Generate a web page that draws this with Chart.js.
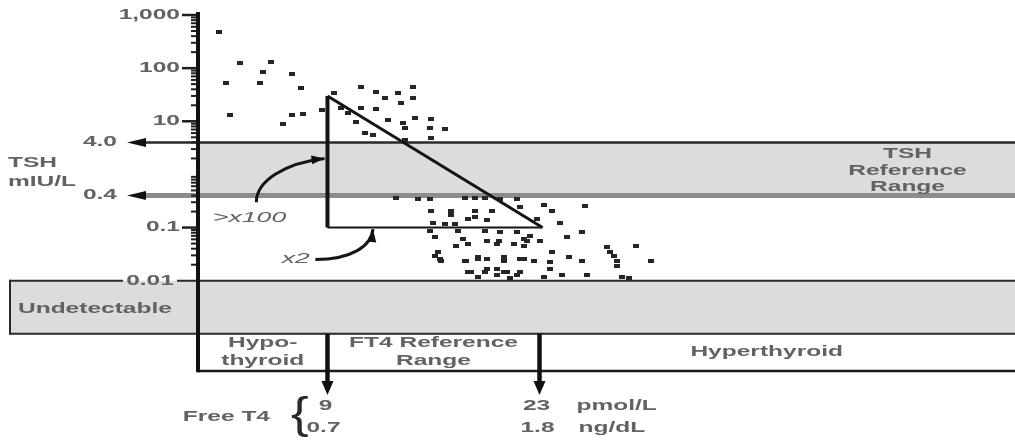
<!DOCTYPE html>
<html><head><meta charset="utf-8">
<script src="https://cdn.jsdelivr.net/npm/chart.js@4.4.1/dist/chart.umd.min.js"></script>
<style>html,body{margin:0;padding:0;background:#fff;overflow:hidden}canvas{display:block}</style>
</head><body>
<canvas id="c" width="1015" height="443"></canvas>
<script>
// ---- data (FT4 in pmol/L, TSH in mIU/L) ----
const hypoFT4 = [1.85, 3.23, 5.26, 4.74, 6.64, 2.31, 4.54, 7.23, 2.57, 6.64, 7.36, 6.05, 8.61];
const hypoTSH = [480, 125, 130, 85, 78, 53, 53, 42, 13.2, 13.2, 13.8, 8.9, 16.4];

const highFT4 = [9.40, 11.23, 12.22, 12.81, 13.66, 14.64, 14.64, 13.86, 11.23, 12.22, 13.0, 13.99,
  14.78, 15.82, 14.12, 15.76, 16.74, 11.50, 15.82, 14.12, 10.38, 9.86, 10.9, 12.0];
const highTSH = [34, 44, 36, 27.5, 34, 44, 27.5, 22, 18, 17, 10.6, 9.3,
  11.6, 11.1, 7.5, 7.5, 7.2, 6.0, 4.9, 4.5, 14.4, 17.9, 9.7, 5.5];

const lowFT4 = [13.53,14.97,15.76,18.05,18.71,19.37,20.42,21.53,
  15.82,17.14,18.71,19.89,21.73,23.30,23.83,25.99,
  15.96,16.74,17.40,18.25,19.56,22.84,24.35,
  15.76,17.60,19.43,20.42,21.53,24.81,25.80,
  17.92,19.56,20.35,21.99,23.04,22.38,
  16.28,16.41,18.12,18.91,19.56,20.68,21.99,22.65,
  23.83,24.94,25.80,27.43,27.63,28.09,29.40,30.39,
  18.45,19.37,20.22,20.88,21.73,23.30,23.70,24.48,
  26.12,28.42,28.94,18.91,21.07,28.09,
  17.46,18.25,21.34,16.09,20.22,27.9,23.7,22.0,
  17.14,18.71,22.2,16.09,16.48,18.05,18.91,20.68,
  21.73,18.25,20.22,20.68,21.53,19.56];
const lowTSH = [0.36,0.34,0.34,0.36,0.36,0.36,0.34,0.34,
  0.205,0.205,0.205,0.205,0.24,0.265,0.205,0.25,
  0.123,0.116,0.116,0.143,0.136,0.143,0.123,
  0.0875,0.0875,0.0875,0.084,0.084,0.067,0.084,
  0.061,0.056,0.056,0.061,0.056,0.070,
  0.0345,0.0253,0.0232,0.0253,0.0253,0.0232,0.0253,0.0232,
  0.0345,0.0277,0.0232,0.043,0.0345,0.0232,0.045,0.0232,
  0.0149,0.0143,0.0163,0.0149,0.0143,0.0119,0.0163,0.0130,
  0.0130,0.0119,0.0114,0.0119,0.0114,0.0186,
  0.045,0.049,0.049,0.067,0.049,0.029,0.0222,0.045,
  0.176,0.16,0.056,0.029,0.0232,0.0232,0.0277,0.0277,
  0.0253,0.0143,0.013,0.0143,0.013,0.0163];

const triangleFT4 = [9, 9, 23.2];
const triangleTSH = [30, 0.1, 0.1];

const yMajorTicks = [1000, 100, 10, 0.1];
const yMajorLabels = ['1,000', '100', '10', '0.1'];
const tshRange = [0.4, 4.0];
const tshRangeLabels = ['0.4', '4.0'];
const undetectable = [0.001, 0.01];
const undetectableLabel = '0.01';
const ft4Range = [9, 23];
const ft4Pmol = ['9', '23'];
const ft4Ngdl = ['0.7', '1.8'];

// ---- helpers ----
const FONT = '"Liberation Sans", Arial, sans-serif';
const TXT = '#626262';
function txt(ctx, s, x, y, align, o) {
  o = o || {};
  ctx.save();
  ctx.font = (o.italic ? 'italic ' : '') + (o.weight || 'bold') + ' ' + (o.size || 14) + 'px ' + FONT;
  ctx.fillStyle = o.color || TXT;
  ctx.textBaseline = o.baseline || 'middle';
  ctx.textAlign = 'left';
  const sx = o.sx || 1.75;
  const w = ctx.measureText(s).width * sx;
  const left = align === 'center' ? x - w / 2 : align === 'right' ? x - w : x;
  ctx.translate(left, y);
  ctx.scale(sx, 1);
  ctx.fillText(s, 0, 0);
  ctx.restore();
}
function line(ctx, x1, y1, x2, y2, c, w) {
  ctx.save(); ctx.strokeStyle = c; ctx.lineWidth = w; ctx.lineCap = 'butt';
  ctx.beginPath(); ctx.moveTo(x1, y1); ctx.lineTo(x2, y2); ctx.stroke(); ctx.restore();
}
function head(ctx, tx, ty, ang, len, hw, c) {
  ctx.save(); ctx.fillStyle = c || '#111';
  ctx.translate(tx, ty); ctx.rotate(ang);
  ctx.beginPath(); ctx.moveTo(0, 0); ctx.lineTo(-len, -hw); ctx.lineTo(-len, hw); ctx.closePath(); ctx.fill();
  ctx.restore();
}
function curveArrow(ctx, p0, p1, p2, p3) {
  ctx.save(); ctx.strokeStyle = '#151515'; ctx.lineWidth = 3;
  ctx.beginPath(); ctx.moveTo(p0[0], p0[1]);
  ctx.bezierCurveTo(p1[0], p1[1], p2[0], p2[1], p3[0], p3[1]); ctx.stroke();
  ctx.restore();
  head(ctx, p3[0], p3[1], Math.atan2(p3[1] - p2[1], p3[0] - p2[0]), 13, 4.5);
}

const dot = document.createElement('canvas');
dot.width = 6; dot.height = 4;
(function () { const d = dot.getContext('2d'); d.fillStyle = '#262626'; d.fillRect(0, 0, 6, 4); })();

const toXY = (xs, ys) => xs.map((v, i) => ({ x: v, y: ys[i] }));

const diagram = {
  id: 'diagram',
  beforeDatasetsDraw(chart) {
    const { ctx, chartArea: ca, scales: { x, y } } = chart;
    const W = chart.width;
    const yT = y.getPixelForValue(tshRange[1]), yB = y.getPixelForValue(tshRange[0]);
    const yU1 = y.getPixelForValue(undetectable[1]), yU0 = y.getPixelForValue(undetectable[0]);
    ctx.save();
    ctx.fillStyle = '#dcdcdc';
    ctx.fillRect(ca.left, yT, W - ca.left, yB - yT);
    ctx.fillRect(10, yU1, W - 10, yU0 - yU1);
    ctx.restore();
    line(ctx, 145, yB, W, yB, '#8c8c8c', 5);
    line(ctx, 145, yT, W, yT, '#2a2a2a', 2.5);
    head(ctx, 127, yT, Math.PI, 19, 4.5);
    head(ctx, 127, yB, Math.PI, 19, 4.5);
    line(ctx, 10, yU1, 123, yU1, '#2a2a2a', 2);
    line(ctx, 177, yU1, W, yU1, '#2a2a2a', 2);
    line(ctx, 10, yU1 - 1, 10, yU0 + 1, '#2a2a2a', 2);
    line(ctx, 10, yU0, W, yU0, '#2a2a2a', 2);
    line(ctx, ca.left, ca.bottom, W, ca.bottom, '#1a1a1a', 2.5);
  },
  afterDatasetsDraw(chart) {
    const { ctx, chartArea: ca, scales: { x, y } } = chart;
    const ax = ca.left;
    for (let d = -2; d <= 2; d++) {
      for (let m = 2; m <= 9; m++) {
        const py = y.getPixelForValue(m * Math.pow(10, d));
        line(ctx, ax - 7, py, ax, py, '#1e1e1e', 2);
      }
    }
    yMajorTicks.forEach((v, i) => {
      const py = y.getPixelForValue(v);
      line(ctx, ax - 16, py, ax, py, '#1e1e1e', 2.5);
      txt(ctx, yMajorLabels[i], ax - 18, py, 'right');
    });
    tshRange.forEach((v, i) => txt(ctx, tshRangeLabels[i], 117, y.getPixelForValue(v), 'right'));
    txt(ctx, undetectableLabel, 150, y.getPixelForValue(undetectable[1]), 'center');
    line(ctx, ax, 12, ax, ca.bottom + 1.3, '#111', 4);

    const yU0 = y.getPixelForValue(undetectable[0]);
    const yU1 = y.getPixelForValue(undetectable[1]);
    const xs = ft4Range.map(v => x.getPixelForValue(v));
    xs.forEach(px => {
      line(ctx, px, yU0, px, 384, '#111', 4.5);
      head(ctx, px, 395, Math.PI / 2, 14, 6);
    });
    txt(ctx, ft4Pmol[0], xs[0] - 2, 406, 'center');
    txt(ctx, ft4Ngdl[0], xs[0] - 4, 428, 'center');
    txt(ctx, ft4Pmol[1], xs[1] - 3, 406, 'center');
    txt(ctx, ft4Ngdl[1], xs[1] - 2, 428, 'center');
    txt(ctx, 'pmol/L', xs[1] + 37, 406, 'left');
    txt(ctx, 'ng/dL', xs[1] + 39, 428, 'left');
    txt(ctx, 'Free T4', 270, 417, 'right');
    txt(ctx, '{', 291, 428, 'left', { size: 44, sx: 1.2, weight: 'normal', baseline: 'alphabetic', color: '#2a2a2a' });

    const r1 = yU0 + 9, r2 = yU0 + 27;
    txt(ctx, 'Hypo-', (ax + xs[0]) / 2, r1, 'center');
    txt(ctx, 'thyroid', (ax + xs[0]) / 2, r2, 'center');
    txt(ctx, 'FT4 Reference', (xs[0] + xs[1]) / 2, r1, 'center');
    txt(ctx, 'Range', (xs[0] + xs[1]) / 2, r2, 'center');
    txt(ctx, 'Hyperthyroid', x.getPixelForValue(38), (yU0 + ca.bottom) / 2, 'center');

    const yT = y.getPixelForValue(tshRange[1]), yB = y.getPixelForValue(tshRange[0]);
    const mid = (yT + yB) / 2, cx = x.getPixelForValue(47.3);
    txt(ctx, 'TSH', cx, mid - 15, 'center');
    txt(ctx, 'Reference', cx, mid + 2, 'center');
    txt(ctx, 'Range', cx, mid + 18, 'center');
    txt(ctx, 'TSH', 8, 163, 'left');
    txt(ctx, 'mIU/L', 8, 182, 'left');
    txt(ctx, 'Undetectable', 18, (yU1 + yU0) / 2 + 2, 'left');

    const P = (a, b) => [x.getPixelForValue(a), y.getPixelForValue(b)];
    txt(ctx, '>x100', x.getPixelForValue(1.44), y.getPixelForValue(0.15), 'left', { italic: true, weight: 'normal', sx: 1.9 });
    curveArrow(ctx, P(4.3, 0.3), P(4.3, 0.75), P(6.2, 1.65), [xs[0] - 3, y.getPixelForValue(2.0)]);
    txt(ctx, 'x2', x.getPixelForValue(5.98), y.getPixelForValue(0.0254), 'left', { italic: true, weight: 'normal', sx: 1.9 });
    curveArrow(ctx, P(8.2, 0.025), P(10.6, 0.025), P(11.9, 0.045), [x.getPixelForValue(12.0), y.getPixelForValue(0.1) + 1.5]);
  }
};

const ptStyle = { pointStyle: dot, pointRadius: 3, pointHoverRadius: 3, backgroundColor: '#262626', borderWidth: 0 };
const seg = (i, j, w) => ({
  type: 'line', showLine: true, pointRadius: 0, borderColor: '#141414', borderWidth: w, fill: false,
  data: [{ x: triangleFT4[i], y: triangleTSH[i] }, { x: triangleFT4[j], y: triangleTSH[j] }]
});

new Chart(document.getElementById('c'), {
  type: 'scatter',
  data: {
    datasets: [
      seg(0, 1, 4), seg(1, 2, 2), seg(0, 2, 3),
      Object.assign({ label: 'Hypothyroid', data: toXY(hypoFT4, hypoTSH) }, ptStyle),
      Object.assign({ label: 'High TSH', data: toXY(highFT4, highTSH) }, ptStyle),
      Object.assign({ label: 'Low TSH', data: toXY(lowFT4, lowTSH) }, ptStyle)
    ]
  },
  options: {
    responsive: false, animation: false, devicePixelRatio: 1,
    layout: { padding: { left: 198, right: 0, top: 15, bottom: 72 } },
    plugins: { legend: { display: false }, tooltip: { enabled: false } },
    scales: {
      x: { type: 'linear', min: 0.45, max: 54.2, display: false },
      y: { type: 'logarithmic', min: 0.0002, max: 1000, display: false, bounds: 'data' }
    }
  },
  plugins: [diagram]
});
</script>
</body></html>
